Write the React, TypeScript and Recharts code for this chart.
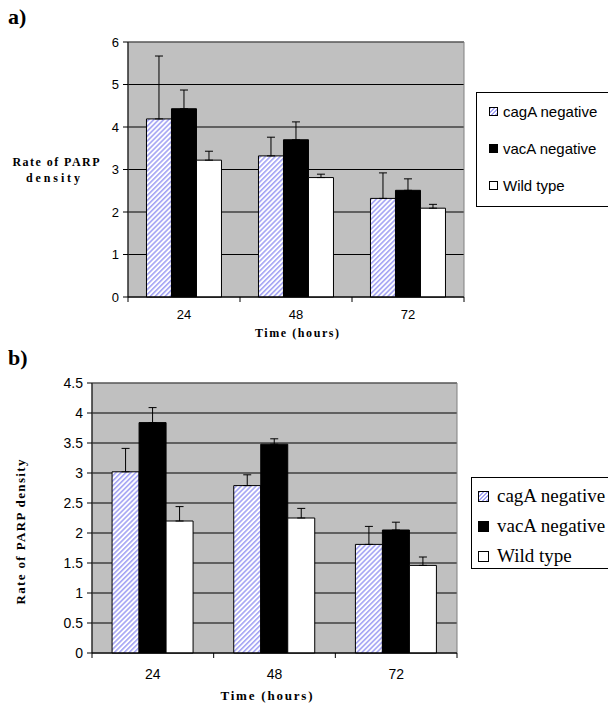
import React from "react";
import {
  BarChart,
  Bar,
  XAxis,
  YAxis,
  CartesianGrid,
  ErrorBar,
  Legend,
  ReferenceArea,
  Label,
} from "recharts";

const SANS = "'Liberation Sans', Arial, sans-serif";
const SERIF = "'Liberation Serif', 'Times New Roman', serif";
const HATCH = "#a4a4f4";

const times = ["24", "48", "72"];
const seriesNames = ["cagA negative", "vacA negative", "Wild type"];

// panel a
const aCagA = [4.19, 3.32, 2.32];
const aCagAErr = [1.48, 0.44, 0.6];
const aVacA = [4.43, 3.7, 2.51];
const aVacAErr = [0.44, 0.42, 0.27];
const aWild = [3.22, 2.81, 2.09];
const aWildErr = [0.21, 0.08, 0.09];
const aTicks = [0, 1, 2, 3, 4, 5, 6];

// panel b
const bCagA = [3.02, 2.79, 1.81];
const bCagAErr = [0.39, 0.18, 0.3];
const bVacA = [3.84, 3.48, 2.05];
const bVacAErr = [0.25, 0.09, 0.13];
const bWild = [2.2, 2.25, 1.46];
const bWildErr = [0.24, 0.16, 0.14];
const bTicks = [0, 0.5, 1, 1.5, 2, 2.5, 3, 3.5, 4, 4.5];

function buildRows(cag: number[], cagE: number[], vac: number[], vacE: number[], wild: number[], wildE: number[]) {
  return times.map((t, i) => ({
    time: t,
    cag: cag[i],
    cagErr: [0, cagE[i]],
    vac: vac[i],
    vacErr: [0, vacE[i]],
    wild: wild[i],
    wildErr: [0, wildE[i]],
  }));
}

const aRows = buildRows(aCagA, aCagAErr, aVacA, aVacAErr, aWild, aWildErr);
const bRows = buildRows(bCagA, bCagAErr, bVacA, bVacAErr, bWild, bWildErr);

// category labels, plus Excel-style tick marks on the band edges
function timeTick(fontSize: number, margin: number) {
  return (props: any) => {
    const { x, y, payload, index } = props;
    const half = payload.offset ?? 0;
    const axisY = y - margin;
    return (
      <g>
        <line x1={x - half} x2={x - half} y1={axisY} y2={axisY + 5} stroke="#000" />
        {index === times.length - 1 && (
          <line x1={x + half} x2={x + half} y1={axisY} y2={axisY + 5} stroke="#000" />
        )}
        <text x={x} y={y} dy="0.71em" textAnchor="middle" fontSize={fontSize} fontFamily={SANS} fill="#000">
          {payload.value}
        </text>
      </g>
    );
  };
}

const swatchBg = [
  `repeating-linear-gradient(135deg, ${HATCH} 0 1.2px, #fff 1.2px 2.8px)`,
  "#000",
  "#fff",
];

function LegendBox({ fontFamily, fontSize, sw, rowH, padTop, padLeft, width, height, textGap }: any) {
  return (
    <div
      style={{
        width,
        height,
        boxSizing: "border-box",
        border: "1px solid #000",
        background: "#fff",
        paddingTop: padTop,
        paddingLeft: padLeft,
      }}
    >
      {seriesNames.map((n, i) => (
        <div
          key={n}
          style={{ height: rowH, display: "flex", alignItems: "center", fontFamily, fontSize, whiteSpace: "nowrap", color: "#000" }}
        >
          <span
            style={{
              flex: "none",
              display: "inline-block",
              width: sw,
              height: sw,
              boxSizing: "border-box",
              border: "1px solid #000",
              background: swatchBg[i],
              marginRight: textGap,
            }}
          />
          {n}
        </div>
      ))}
    </div>
  );
}

function Hatch({ id }: { id: string }) {
  return (
    <defs>
      <pattern id={id} patternUnits="userSpaceOnUse" width="3.5" height="3.5" patternTransform="rotate(45)">
        <rect width="3.5" height="3.5" fill="#fff" />
        <rect width="1.6" height="3.5" fill={HATCH} />
      </pattern>
    </defs>
  );
}

export default function App() {
  return (
    <div style={{ position: "absolute", left: 0, top: 0, width: 608, height: 711, overflow: "hidden", background: "#fff" }}>
      <div style={{ position: "absolute", left: 8, top: 4, fontFamily: SERIF, fontWeight: "bold", fontSize: 22 }}>a)</div>
      <div style={{ position: "absolute", left: 8, top: 345, fontFamily: SERIF, fontWeight: "bold", fontSize: 22 }}>b)</div>

      <div style={{ position: "absolute", left: 0, top: 0 }}>
        <BarChart width={608} height={340} data={aRows} margin={{ top: 42, right: 144, left: 0, bottom: 0 }} barGap={0} barCategoryGap="16.5%">
          <Hatch id="hatchA" />
          <CartesianGrid vertical={false} stroke="#000" fill="#c0c0c0" fillOpacity={1} />
          <ReferenceArea y1={0} y2={6} fill="none" stroke="#808080" ifOverflow="visible" />
          <XAxis dataKey="time" height={43} axisLine={{ stroke: "#000" }} tickLine={false} tickSize={0} tickMargin={13} tick={timeTick(13, 13)} interval={0}>
            <Label
              content={({ viewBox }: any) => (
                <text x={viewBox.x + viewBox.width / 2 + 1} y={viewBox.y + 40} textAnchor="middle" fontFamily={SERIF} fontWeight="bold" fontSize={12} textLength={84} lengthAdjust="spacing">
                  Time (hours)
                </text>
              )}
            />
          </XAxis>
          <YAxis width={128} domain={[0, 6]} ticks={aTicks} axisLine={{ stroke: "#000" }} tickLine={{ stroke: "#000" }} tickSize={5} tickMargin={4} tick={{ fill: "#000", fontSize: 13, fontFamily: SANS }}>
            <Label
              content={({ viewBox }: any) => {
                const cy = viewBox.y + viewBox.height / 2;
                return (
                  <g fontFamily={SERIF} fontWeight="bold" fontSize={12}>
                    <text x={56} y={cy - 4} textAnchor="middle" textLength={87} lengthAdjust="spacing">
                      Rate of PARP
                    </text>
                    <text x={53} y={cy + 12} textAnchor="middle" textLength={54} lengthAdjust="spacing">
                      density
                    </text>
                  </g>
                );
              }}
            />
          </YAxis>
          <Legend
            layout="vertical"
            align="center"
            verticalAlign="middle"
            wrapperStyle={{ left: 476, top: 92, width: 140 }}
            content={() => (
              <LegendBox fontFamily={SANS} fontSize={15} sw={9} rowH={37} padTop={0} padLeft={12} width={140} height={115} textGap={5} />
            )}
          />
          <Bar dataKey="cag" name={seriesNames[0]} fill="url(#hatchA)" stroke="#000" strokeWidth={1} isAnimationActive={false}>
            <ErrorBar dataKey="cagErr" direction="y" width={4} stroke="#000" strokeWidth={1} />
          </Bar>
          <Bar dataKey="vac" name={seriesNames[1]} fill="#000" stroke="#000" strokeWidth={1} isAnimationActive={false}>
            <ErrorBar dataKey="vacErr" direction="y" width={4} stroke="#000" strokeWidth={1} />
          </Bar>
          <Bar dataKey="wild" name={seriesNames[2]} fill="#fff" stroke="#000" strokeWidth={1} isAnimationActive={false}>
            <ErrorBar dataKey="wildErr" direction="y" width={4} stroke="#000" strokeWidth={1} />
          </Bar>
        </BarChart>
      </div>

      <div style={{ position: "absolute", left: 0, top: 340 }}>
        <BarChart width={608} height={371} data={bRows} margin={{ top: 43, right: 151, left: 0, bottom: 0 }} barGap={0} barCategoryGap="16.5%">
          <Hatch id="hatchB" />
          <CartesianGrid vertical={false} stroke="#000" fill="#c0c0c0" fillOpacity={1} />
          <ReferenceArea y1={0} y2={4.5} fill="none" stroke="#808080" ifOverflow="visible" />
          <XAxis dataKey="time" height={58} axisLine={{ stroke: "#000" }} tickLine={false} tickSize={0} tickMargin={16} tick={timeTick(14, 16)} interval={0}>
            <Label
              content={({ viewBox }: any) => (
                <text x={viewBox.x + viewBox.width / 2 - 8} y={viewBox.y + 47} textAnchor="middle" fontFamily={SERIF} fontWeight="bold" fontSize={13} textLength={92} lengthAdjust="spacing">
                  Time (hours)
                </text>
              )}
            />
          </XAxis>
          <YAxis width={92} domain={[0, 4.5]} ticks={bTicks} axisLine={{ stroke: "#000" }} tickLine={{ stroke: "#000" }} tickSize={5} tickMargin={4} tick={{ fill: "#000", fontSize: 14, fontFamily: SANS }}>
            <Label
              content={({ viewBox }: any) => {
                const cy = viewBox.y + viewBox.height / 2 + 14;
                return (
                  <text x={20} y={cy} transform={`rotate(-90 20 ${cy})`} textAnchor="middle" dominantBaseline="central" fontFamily={SERIF} fontWeight="bold" fontSize={13} textLength={145} lengthAdjust="spacing">
                    Rate of PARP density
                  </text>
                );
              }}
            />
          </YAxis>
          <Legend
            layout="vertical"
            align="center"
            verticalAlign="middle"
            wrapperStyle={{ left: 471, top: 137, width: 160 }}
            content={() => (
              <LegendBox fontFamily={SERIF} fontSize={19} sw={11} rowH={30} padTop={3} padLeft={6} width={160} height={92} textGap={8} />
            )}
          />
          <Bar dataKey="cag" name={seriesNames[0]} fill="url(#hatchB)" stroke="#000" strokeWidth={1} isAnimationActive={false}>
            <ErrorBar dataKey="cagErr" direction="y" width={4} stroke="#000" strokeWidth={1} />
          </Bar>
          <Bar dataKey="vac" name={seriesNames[1]} fill="#000" stroke="#000" strokeWidth={1} isAnimationActive={false}>
            <ErrorBar dataKey="vacErr" direction="y" width={4} stroke="#000" strokeWidth={1} />
          </Bar>
          <Bar dataKey="wild" name={seriesNames[2]} fill="#fff" stroke="#000" strokeWidth={1} isAnimationActive={false}>
            <ErrorBar dataKey="wildErr" direction="y" width={4} stroke="#000" strokeWidth={1} />
          </Bar>
        </BarChart>
      </div>
    </div>
  );
}
